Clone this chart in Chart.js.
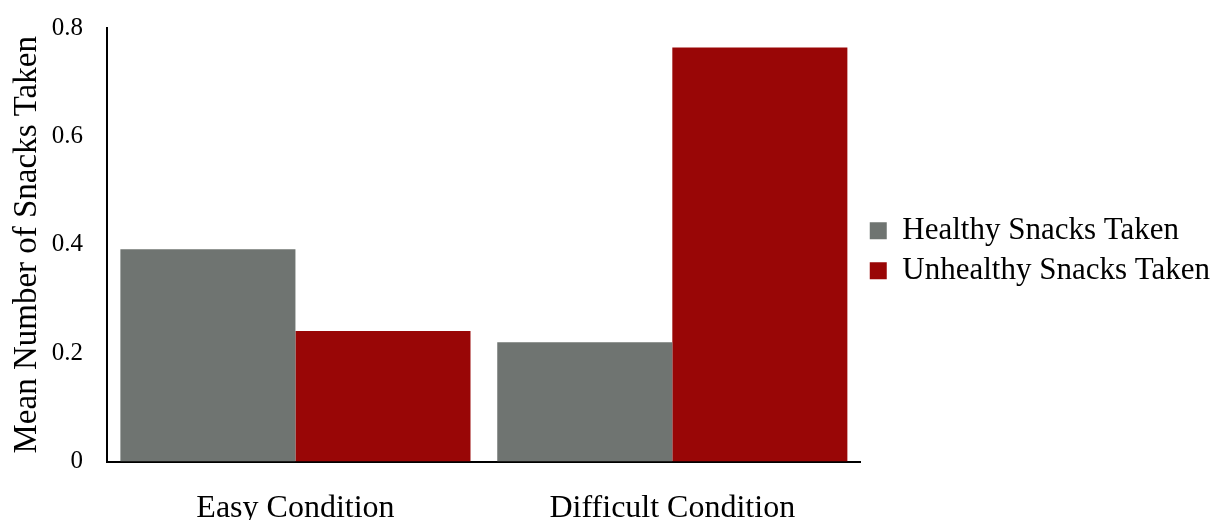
<!DOCTYPE html>
<html>
<head>
<meta charset="utf-8">
<script src="https://cdn.jsdelivr.net/npm/chart.js@4/dist/chart.umd.min.js"></script>
<style>
  html, body { margin: 0; padding: 0; background: #fff; }
  #wrap { width: 1220px; height: 520px; }
</style>
</head>
<body>
<div id="wrap"><canvas id="chart"></canvas></div>
<script>
    const conditions = ['Easy Condition', 'Difficult Condition'];
    const healthyTaken = [0.392, 0.220];
    const unhealthyTaken = [0.241, 0.764];
    const seriesNames = ['Healthy Snacks Taken', 'Unhealthy Snacks Taken'];
    const yTicks = [0, 0.2, 0.4, 0.6, 0.8];

    const SERIF = '"Liberation Serif", "Times New Roman", serif';

    // bars and legend
    const chartData = {
      labels: conditions,
      datasets: [{
        label: seriesNames[0],
        data: healthyTaken,
        backgroundColor: '#6f7471',
        categoryPercentage: 0.929,
        barPercentage: 1.0,
      }, {
        label: seriesNames[1],
        data: unhealthyTaken,
        backgroundColor: '#990606',
        categoryPercentage: 0.929,
        barPercentage: 1.0,
      }],
    };

    const ctx = document.getElementById('chart').getContext('2d');
    new Chart(ctx, {
      type: 'bar',
      data: chartData,
      options: {
        responsive: true,
        maintainAspectRatio: false,
        animation: false,
        layout: { padding: { top: 28, right: 0, bottom: -36, left: 0 } },
        plugins: {
          legend: {
            position: 'right',
            fullSize: false,
            maxWidth: 400,
            // empty title only nudges the items down a little
            title: { display: true, text: '', font: { size: 10 }, padding: 0 },
            labels: {
              color: '#000',
              font: { family: SERIF, size: 31 },
              boxWidth: 17,
              boxHeight: 17,
              padding: 9,
            },
          },
          tooltip: { enabled: false },
        },
        scales: {
          x: {
            grid: { display: false, drawTicks: false },
            border: { display: true, color: '#000', width: 2 },
            ticks: {
              color: '#000',
              font: { family: SERIF, size: 32 },
              padding: 28,
            },
          },
          y: {
            min: 0,
            max: 0.8,
            afterBuildTicks: axis => { axis.ticks = yTicks.map(v => ({ value: v })); },
            afterFit: axis => { axis.width = 107; axis.paddingTop = 0; },
            grid: { display: false, drawTicks: false },
            border: { display: true, color: '#000', width: 2 },
            ticks: {
              color: '#000',
              font: { family: SERIF, size: 25 },
              padding: 24,
            },
            title: {
              display: true,
              text: 'Mean Number of Snacks Taken',
              color: '#000',
              font: { family: SERIF, size: 33 },
              padding: { top: 8, bottom: 0 },
            },
          },
        },
      },
    });
</script>
</body>
</html>
